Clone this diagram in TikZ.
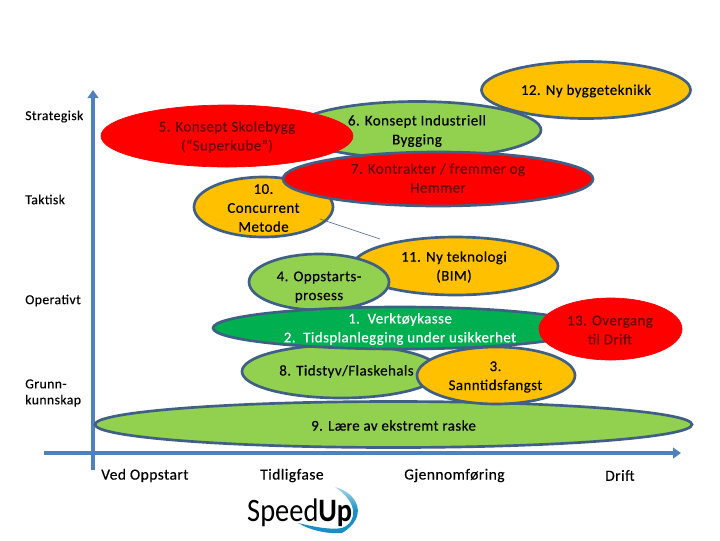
\documentclass[tikz,border=0pt]{standalone}
\usepackage{fontspec}
\usetikzlibrary{shapes.geometric,arrows.meta}
\setmainfont[LetterSpace=3,FakeBold=0.3]{Carlito}
\newfontfamily\logofont{Carlito}
\definecolor{edgeblue}{HTML}{3F5F85}
\definecolor{axisblue}{HTML}{4F81BD}
\definecolor{orangeY}{HTML}{FFC000}
\definecolor{lime}{HTML}{92D050}
\definecolor{dgreen}{HTML}{00B050}
\definecolor{swoosh}{HTML}{1B8FC4}
\definecolor{swooshlight}{HTML}{A9D9EC}
\definecolor{onred}{HTML}{600808}
\tikzset{
  x=0.75pt,y=-0.75pt,
  sz/.style 2 args={minimum width=#1*0.75pt,minimum height=#2*0.75pt},
  blob/.style={ellipse,inner sep=0pt,draw=edgeblue,line width=2pt},
  redblob/.style={ellipse,inner sep=0pt,fill=red,draw=red,line width=0.5pt},
  txt/.style={font=\fontsize{11.2}{14.2}\selectfont,align=center,text=black},
  redtxt/.style={txt,text=onred},
  lbl/.style={font=\fontsize{10.3}{12}\selectfont,align=left,inner sep=0pt,anchor=west},
  blbl/.style={font=\fontsize{11.6}{14}\selectfont,inner sep=0pt,anchor=west},
  axisline/.style={draw=axisblue,line width=2.3pt},
  axishead/.style={-{Triangle[length=6pt,width=8pt]}},
}
\begin{document}
\begin{tikzpicture}
\useasboundingbox (0,0) rectangle (720,540);
% axes
\coordinate (yend) at (93,90);
\coordinate (ystart) at (93,470);
\coordinate (xstart) at (44,453);
\coordinate (xend) at (681,453);
\draw[axisline,axishead] (ystart) -- (yend);
\draw[axisline,axishead] (xstart) -- (xend);
% ellipses
\node[blob,fill=orangeY,sz={209}{57}] (twelve) at (586,90) {};
\node[blob,fill=lime,sz={248}{57}] (six) at (417,130) {};
\node[blob,fill=orangeY,sz={139}{60}] (ten) at (263.5,207) {};
\node[blob,fill=red,sz={310}{54}] (seven) at (438,179) {};
\node[redblob,sz={252}{62}] (five) at (227,136) {};
\coordinate (lineA) at (320,219);
\coordinate (lineB) at (380,239);
\draw[edgeblue,line width=0.4pt] (lineA) -- (lineB);
\node[blob,fill=orangeY,sz={205}{58}] (eleven) at (455.5,266) {};
\node[blob,fill=lime,sz={140}{56}] (four) at (319,282) {};
\node[blob,fill=lime,sz={198}{53}] (eight) at (341,371.5) {};
\node[blob,fill=dgreen,sz={374}{42}] (one) at (400,328) {};
\node[redblob,sz={143}{62}] (thirteen) at (610.5,329) {};
\node[blob,fill=lime,sz={597}{46}] (nine) at (393.5,424.5) {};
\node[blob,fill=orangeY,sz={158}{57}] (three) at (496,375.5) {};
% texts in ellipses
\node[txt] at (586,91) {12. Ny byggeteknikk};
\node[txt] at (417,131) {6. Konsept Industriell\\Bygging};
\node[redtxt] at (438,178) {7. Kontrakter / fremmer og\\Hemmer};
\node[redtxt] at (227,137) {5. Konsept Skolebygg\\(“Superkube”)};
\node[txt] at (263.5,208) {10.\\Concurrent\\Metode};
\node[txt] at (454,267) {11. Ny teknologi\\(BIM)};
\node[txt] at (319,287) {4. Oppstarts-\\prosess};
\node[txt,text=white] at (400,329) {1.\ \ Verktøykasse\\2.\ \ Tidsplanlegging under usikkerhet};
\node[txt] at (346.5,371.5) {8. Tidstyv/Flaskehals};
\node[txt] at (495.5,377) {3.\\Sanntidsfangst};
\node[redtxt] at (610,330) {13. Overgang\\til Drift};
\node[txt] at (393.5,425.5) {9. Lære av ekstremt raske};
% axis labels
\node[lbl] (s) at (25,116.5) {Strategisk};
\node[lbl] (t) at (25,199.5) {Taktisk};
\node[lbl] (o) at (25,300.5) {Operativt};
\node[lbl] (g) at (25,393) {Grunn-\\kunnskap};
\node[blbl] (a) at (101,475.5) {Ved Oppstart};
\node[blbl] (b) at (260,475.5) {Tidligfase};
\node[blbl] (c) at (404,475.5) {Gjennomføring};
\node[blbl] (d) at (605,475.5) {Drift};
% logo
\shade[top color=swooshlight,bottom color=swoosh,middle color=swoosh] (335,487) .. controls (358,493) and (369,517) .. (342,533) .. controls (325,534) and (310,530) .. (298,523) .. controls (315,527) and (330,530) .. (342,528) .. controls (358,522) and (358,502) .. (335,487) -- cycle;
\node[inner sep=0pt,anchor=base west,xscale=0.87,font=\logofont\fontsize{24.5}{24.5}\selectfont] (logo) at (247,521) {Speed\textbf{Up}};
\end{tikzpicture}
\end{document}
